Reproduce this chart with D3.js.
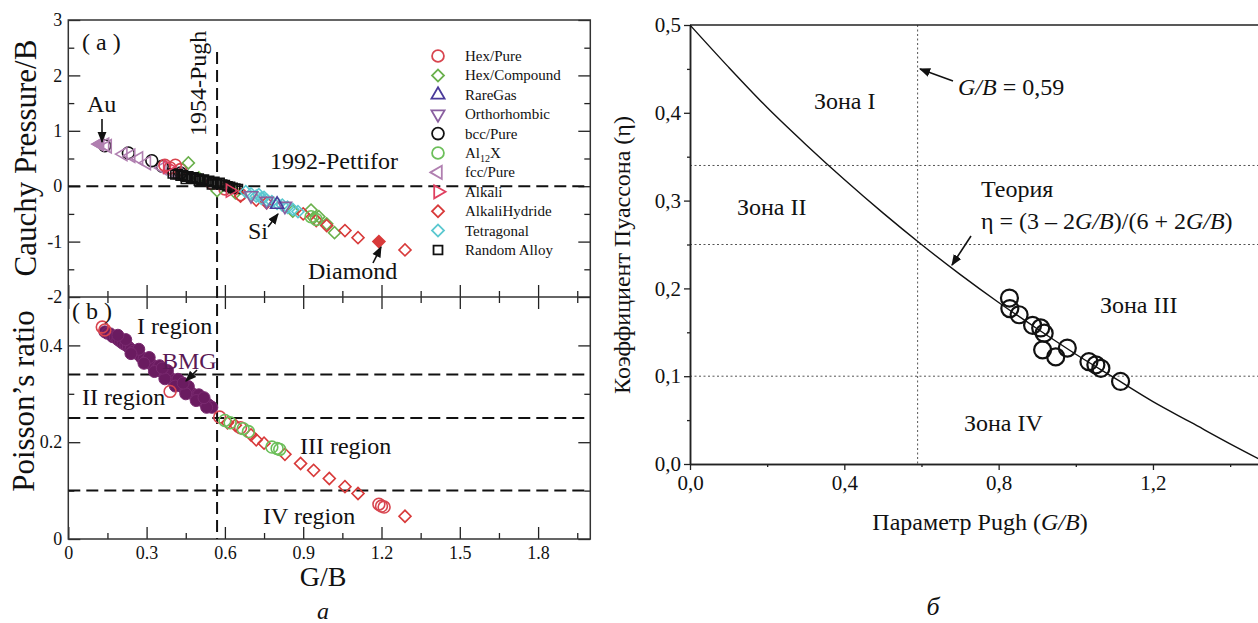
<!DOCTYPE html>
<html>
<head>
<meta charset="utf-8">
<script src="https://cdn.jsdelivr.net/npm/d3@7"></script>
<style>
  body { margin: 0; background: #fff; }
  svg text { font-family: "Liberation Serif", "DejaVu Serif", serif; fill: #111; }
  .axis path, .axis line { stroke: #222; }
</style>
</head>
<body>
<svg id="chart" width="1258" height="623"></svg>
<script>
// ── left panel (a): Cauchy pressure / B vs G/B ─────────────────────
const legendNames = ["Hex/Pure","Hex/Compound","RareGas","Orthorhombic","bcc/Pure","Al12X",
                     "fcc/Pure","Alkali","AlkaliHydride","Tetragonal","Random Alloy"];

const cauchyHexPure = [[0.37,0.38],[0.39,0.33],[0.41,0.38],[0.43,0.30],[0.55,0.05],[0.60,-0.05],[0.66,-0.15]];
const cauchyHexCompound = [[0.46,0.42],[0.50,0.15],[0.57,-0.08],[0.64,-0.12],[0.86,-0.45],[0.93,-0.43],
                           [0.94,-0.57],[0.96,-0.55],[0.99,-0.68],[1.02,-0.84]];
const cauchyRareGas = [[0.80,-0.33]];
const cauchyOrtho = [[0.70,-0.17],[0.76,-0.27],[0.83,-0.36]];
const cauchyBcc = [[0.14,0.73],[0.23,0.60],[0.32,0.46],[0.36,0.36],[0.43,0.24]];
const cauchyAl12X = [[0.93,-0.55],[0.95,-0.60]];
const cauchyFcc = [[0.12,0.76],[0.14,0.75],[0.15,0.72],[0.21,0.58],[0.24,0.55],[0.27,0.50],
                   [0.30,0.42],[0.36,0.33],[0.40,0.24],[0.42,0.22]];
const cauchyAlkali = [[0.38,0.35],[0.62,-0.08]];
const cauchyHydride = [[0.66,-0.18],[0.72,-0.25],[0.76,-0.30],[0.90,-0.50],[0.95,-0.62],[0.99,-0.71],
                       [1.06,-0.80],[1.11,-0.93],[1.29,-1.15]];
const cauchyDiamond = [[1.19,-1.00]];
const cauchyTetra = [[0.68,-0.10],[0.70,-0.14],[0.72,-0.18],[0.73,-0.15],[0.74,-0.22],[0.75,-0.20],
                     [0.76,-0.25],[0.78,-0.28],[0.80,-0.31],[0.82,-0.34],[0.84,-0.38],[0.86,-0.42],[0.88,-0.46]];
const cauchyAlloy = [[0.40,0.23],[0.41,0.21],[0.42,0.22],[0.43,0.19],[0.44,0.20],[0.45,0.17],[0.46,0.18],
                     [0.47,0.15],[0.48,0.16],[0.49,0.13],[0.50,0.14],[0.51,0.11],[0.52,0.12],[0.53,0.09],
                     [0.54,0.10],[0.55,0.07],[0.56,0.08],[0.57,0.05],[0.58,0.06],[0.59,0.03],[0.60,0.02],
                     [0.61,0.00],[0.62,-0.01],[0.63,-0.03],[0.64,-0.04],[0.65,-0.05],[0.45,0.13],[0.50,0.10],[0.55,0.03]];

// ── left panel (b): Poisson's ratio vs G/B ─────────────────────────
const poissonHexPure = [[0.13,0.438],[0.14,0.432],[0.39,0.305],[0.58,0.252],[0.66,0.230],
                        [1.19,0.072],[1.20,0.068],[1.21,0.066]];
const poissonAl12X = [[0.60,0.245],[0.62,0.240],[0.67,0.228],[0.69,0.222],[0.78,0.190],[0.80,0.187],[0.81,0.185]];
const poissonHydride = [[0.61,0.240],[0.64,0.235],[0.70,0.215],[0.72,0.205],[0.75,0.198],[0.83,0.175],
                        [0.89,0.156],[0.94,0.142],[1.00,0.125],[1.06,0.108],[1.11,0.094],[1.29,0.047]];
const poissonBMG = [[0.14,0.428],[0.15,0.425],[0.16,0.424],[0.17,0.418],[0.18,0.417],[0.19,0.412],[0.20,0.408],
  [0.21,0.404],[0.22,0.401],[0.23,0.397],[0.24,0.392],[0.25,0.388],[0.26,0.384],[0.27,0.381],[0.28,0.375],
  [0.29,0.372],[0.30,0.368],[0.31,0.364],[0.32,0.360],[0.33,0.355],[0.34,0.352],[0.35,0.348],[0.36,0.345],
  [0.37,0.340],[0.38,0.336],[0.39,0.333],[0.40,0.328],[0.41,0.325],[0.42,0.320],[0.43,0.317],[0.44,0.313],
  [0.45,0.309],[0.46,0.305],[0.47,0.302],[0.48,0.298],[0.49,0.294],[0.50,0.290],[0.51,0.287],[0.52,0.283],
  [0.53,0.280],[0.54,0.276],[0.55,0.272],[0.22,0.412],[0.27,0.392],[0.31,0.375],[0.35,0.358],[0.38,0.348],
  [0.42,0.330],[0.46,0.315],[0.50,0.298],[0.24,0.383],[0.29,0.363],[0.33,0.346],[0.37,0.331],[0.41,0.316],
  [0.45,0.300],[0.49,0.286],[0.53,0.272],[0.19,0.421],[0.36,0.353],[0.44,0.322],[0.52,0.292]];

const leftXTicks = [0, 0.3, 0.6, 0.9, 1.2, 1.5, 1.8];
const cauchyTicks = [-2, -1, 0, 1, 2, 3];
const poissonTicks = [0, 0.2, 0.4];
const pughLine = 0.57;
const zoneLinesLeft = [0.34, 0.25, 0.1];

// ── right panel (б) ────────────────────────────────────────────────
const pughX = [0.828,0.829,0.853,0.888,0.909,0.918,0.914,0.948,0.978,1.034,1.052,1.065,1.116];
const pughEta = [0.189,0.177,0.170,0.158,0.155,0.149,0.130,0.122,0.132,0.1165,0.113,0.109,0.094];
const theoryX = [0,0.1,0.2,0.3,0.4,0.5,0.6,0.7,0.8,0.9,1.0,1.1,1.2,1.3,1.4,1.5];
const theoryEta = [0.5,0.452,0.406,0.364,0.324,0.286,0.25,0.216,0.184,0.154,0.125,0.098,0.071,0.047,0.023,0];
const rightXTicks = [0, 0.4, 0.8, 1.2];
const rightYTicks = [0, 0.1, 0.2, 0.3, 0.4, 0.5];
const zoneLinesRight = [0.34, 0.25, 0.1];
const pughRight = 0.59;

const SERIF = "Liberation Serif";
const svg = d3.select("#chart");
const defs = svg.append("defs");
defs.append("marker").attr("id","arr").attr("viewBox","0 0 10 10").attr("refX",9).attr("refY",5)
  .attr("markerWidth",7).attr("markerHeight",7).attr("orient","auto-start-reverse")
  .append("path").attr("d","M0,1 L10,5 L0,9 Z").attr("fill","#111");

// styles for series
const sty = {
  "Hex/Pure":      {shape:"circle",  color:"#d8454f"},
  "Hex/Compound":  {shape:"diamond", color:"#6ab04c"},
  "RareGas":       {shape:"up",      color:"#4a3a9a"},
  "Orthorhombic":  {shape:"down",    color:"#8a5fa0"},
  "bcc/Pure":      {shape:"circle",  color:"#111111"},
  "Al12X":         {shape:"circle",  color:"#6cbf5a"},
  "fcc/Pure":      {shape:"left",    color:"#b07fb0"},
  "Alkali":        {shape:"right",   color:"#e04060"},
  "AlkaliHydride": {shape:"diamond", color:"#d83a3a"},
  "Tetragonal":    {shape:"diamond", color:"#5bc8d0"},
  "Random Alloy":  {shape:"square",  color:"#111111"}
};
function symPath(shape) {
  if (shape === "circle") return d3.symbol(d3.symbolCircle, 110)();
  if (shape === "square") return d3.symbol(d3.symbolSquare, 80)();
  if (shape === "diamond") return d3.symbol(d3.symbolSquare, 72)();
  return d3.symbol(d3.symbolTriangle, 75)();
}
function symRot(shape) {
  return {diamond:45, down:180, left:-90, right:90}[shape] || 0;
}
function drawSeries(g, data, name, x, y, filled) {
  const s = sty[name];
  g.selectAll(null).data(data).join("path")
    .attr("d", symPath(s.shape))
    .attr("transform", d => `translate(${x(d[0])},${y(d[1])}) rotate(${symRot(s.shape)})`)
    .attr("fill", filled ? s.color : "none")
    .attr("stroke", s.color).attr("stroke-width", 1.6);
}

// ── left scales ──
const xA = d3.scaleLinear([0, 2], [68.3, 590.3]);
const yTop = d3.scaleLinear([-2, 3], [297, 20]);
const yBot = d3.scaleLinear([0, 0.5], [539, 297]);
const fmtL = d => d === 0 ? "0" : String(d);

const L = svg.append("g");
function addAxis(axis, tx, ty) {
  const g = L.append("g").attr("class","axis").attr("transform",`translate(${tx},${ty})`).call(axis);
  g.attr("font-family", SERIF).attr("font-size", 18);
  g.select(".domain").remove();
  g.selectAll("line").attr("stroke-width",1.3);
  g.selectAll("text").style("font-size","18px").style("font-family",SERIF);
  return g;
}
const minorX = d3.range(0.15, 2, 0.3);
// top panel
addAxis(d3.axisLeft(yTop).tickValues(cauchyTicks).tickFormat(d => String(d)).tickSize(-12).tickPadding(6), 68.3, 0);
addAxis(d3.axisLeft(yTop).tickValues([-1.5,-0.5,0.5,1.5,2.5]).tickFormat("").tickSize(-6), 68.3, 0);
addAxis(d3.axisRight(yTop).tickValues(cauchyTicks).tickFormat("").tickSize(-12), 590.3, 0);
addAxis(d3.axisRight(yTop).tickValues([-1.5,-0.5,0.5,1.5,2.5]).tickFormat("").tickSize(-6), 590.3, 0);
addAxis(d3.axisBottom(xA).tickValues(leftXTicks).tickFormat("").tickSize(-12), 0, 297);
addAxis(d3.axisBottom(xA).tickValues(minorX).tickFormat("").tickSize(-6), 0, 297);
// bottom panel
addAxis(d3.axisLeft(yBot).tickValues(poissonTicks).tickFormat(fmtL).tickSize(-12).tickPadding(6), 68.3, 0);
addAxis(d3.axisLeft(yBot).tickValues([0.1,0.3]).tickFormat("").tickSize(-6), 68.3, 0);
addAxis(d3.axisRight(yBot).tickValues(poissonTicks).tickFormat("").tickSize(-12), 590.3, 0);
addAxis(d3.axisRight(yBot).tickValues([0.1,0.3]).tickFormat("").tickSize(-6), 590.3, 0);
addAxis(d3.axisTop(xA).tickValues(leftXTicks).tickFormat("").tickSize(-12), 0, 297);
addAxis(d3.axisTop(xA).tickValues(minorX).tickFormat("").tickSize(-6), 0, 297);
addAxis(d3.axisBottom(xA).tickValues(leftXTicks).tickFormat(fmtL).tickSize(-12).tickPadding(7), 0, 539);
addAxis(d3.axisBottom(xA).tickValues(minorX).tickFormat("").tickSize(-6), 0, 539);

L.append("rect").attr("x",68.3).attr("y",20).attr("width",522).attr("height",519)
  .attr("fill","none").attr("stroke","#333").attr("stroke-width",1.5);
L.append("line").attr("x1",68.3).attr("x2",590.3).attr("y1",297).attr("y2",297)
  .attr("stroke","#333").attr("stroke-width",1.5);

// dashed guide lines
const dash = "12,6";
L.append("line").attr("x1",xA(pughLine)).attr("x2",xA(pughLine)).attr("y1",52).attr("y2",539)
  .attr("stroke","#111").attr("stroke-width",2).attr("stroke-dasharray",dash);
L.append("line").attr("x1",68.3).attr("x2",590.3).attr("y1",yTop(0)).attr("y2",yTop(0))
  .attr("stroke","#111").attr("stroke-width",2).attr("stroke-dasharray",dash);
zoneLinesLeft.forEach(v => L.append("line").attr("x1",68.3).attr("x2",590.3).attr("y1",yBot(v)).attr("y2",yBot(v))
  .attr("stroke","#111").attr("stroke-width",2).attr("stroke-dasharray",dash));

// scatter top
const gt = L.append("g");
drawSeries(gt, cauchyBcc, "bcc/Pure", xA, yTop);
drawSeries(gt, cauchyFcc, "fcc/Pure", xA, yTop);
drawSeries(gt, cauchyFcc.slice(0,1), "fcc/Pure", xA, yTop, true);
drawSeries(gt, cauchyHexPure, "Hex/Pure", xA, yTop);
drawSeries(gt, cauchyHexCompound, "Hex/Compound", xA, yTop);
drawSeries(gt, cauchyAlloy, "Random Alloy", xA, yTop);
drawSeries(gt, cauchyAlkali, "Alkali", xA, yTop);
drawSeries(gt, cauchyHydride, "AlkaliHydride", xA, yTop);
drawSeries(gt, cauchyDiamond, "AlkaliHydride", xA, yTop, true);
drawSeries(gt, cauchyTetra, "Tetragonal", xA, yTop);
drawSeries(gt, cauchyOrtho, "Orthorhombic", xA, yTop);
drawSeries(gt, cauchyRareGas, "RareGas", xA, yTop);
drawSeries(gt, cauchyAl12X, "Al12X", xA, yTop);

// scatter bottom
const gb = L.append("g");
gb.selectAll(null).data(poissonBMG).join("circle")
  .attr("cx", d => xA(d[0])).attr("cy", d => yBot(d[1])).attr("r", 6)
  .attr("fill","#6a1b60").attr("stroke","#7a2a70").attr("stroke-width",1);
drawSeries(gb, poissonHexPure, "Hex/Pure", xA, yBot);
drawSeries(gb, poissonHydride, "AlkaliHydride", xA, yBot);
drawSeries(gb, poissonAl12X, "Al12X", xA, yBot);

// legend
const lg = L.append("g");
legendNames.forEach((n, i) => {
  const yy = 56 + i * 19.4;
  const s = sty[n];
  lg.append("path").attr("d", symPath(s.shape))
    .attr("transform", `translate(438,${yy}) rotate(${symRot(s.shape)})`)
    .attr("fill","none").attr("stroke", s.color).attr("stroke-width",1.8);
  const t = lg.append("text").attr("x",465).attr("y",yy + 5).style("font-size","15px");
  if (n === "Al12X") {
    t.append("tspan").text("Al");
    t.append("tspan").attr("dy",4).style("font-size","10px").text("12");
    t.append("tspan").attr("dy",-4).text("X");
  } else t.text(n);
});

// left annotations
function txt(g, x, y, s, size, extra) {
  const t = g.append("text").attr("x",x).attr("y",y).style("font-size",size+"px").text(s);
  if (extra) extra(t);
  return t;
}
function arrow(g, x1, y1, x2, y2) {
  g.append("line").attr("x1",x1).attr("y1",y1).attr("x2",x2).attr("y2",y2)
    .attr("stroke","#111").attr("stroke-width",1.6).attr("marker-end","url(#arr)");
}
txt(L, 82, 50, "( a )", 24);
txt(L, 0, 0, "1954-Pugh", 24, t => t.attr("transform","translate(206,136) rotate(-90)"));
txt(L, 270, 169, "1992-Pettifor", 24);
txt(L, 87, 112, "Au", 24);
arrow(L, 102, 119, 102, 142);
txt(L, 248, 239, "Si", 24);
arrow(L, 268, 227, 278, 214);
txt(L, 308, 279, "Diamond", 24);
arrow(L, 373, 263, 381, 247);
txt(L, 72, 319, "( b )", 24);
txt(L, 137, 334, "I region", 24);
txt(L, 162, 369, "BMG", 24, t => t.style("fill","#5a1a55"));
arrow(L, 197, 370, 186, 381);
txt(L, 82, 405, "II region", 24);
txt(L, 300, 454, "III region", 24);
txt(L, 263, 524, "IV region", 24);
txt(L, 0, 0, "Cauchy Pressure/B", 31, t => t.attr("text-anchor","middle").attr("transform","translate(36,158) rotate(-90)"));
txt(L, 0, 0, "Poisson’s ratio", 31, t => t.attr("text-anchor","middle").attr("transform","translate(34,401) rotate(-90)"));
txt(L, 323, 586, "G/B", 28, t => t.attr("text-anchor","middle"));
txt(L, 323, 619, "a", 24, t => t.attr("text-anchor","middle").style("font-style","italic"));

// ── right panel ──
const R = svg.append("g");
const xR = d3.scaleLinear([0, 1.5], [690, 1268.7]);
const yR = d3.scaleLinear([0, 0.5], [464, 25]);
const fmtR = d => d3.format(".1f")(d).replace(".", ",");

const dotted = {stroke:"#555", w:1, dash:"2,2.5"};
zoneLinesRight.forEach(v => R.append("line").attr("x1",690).attr("x2",1268).attr("y1",yR(v)).attr("y2",yR(v))
  .attr("stroke",dotted.stroke).attr("stroke-width",dotted.w).attr("stroke-dasharray",dotted.dash));
R.append("line").attr("x1",xR(pughRight)).attr("x2",xR(pughRight)).attr("y1",25).attr("y2",464)
  .attr("stroke",dotted.stroke).attr("stroke-width",dotted.w).attr("stroke-dasharray",dotted.dash);

function addR(axis, tx, ty) {
  const g = R.append("g").attr("class","axis").attr("transform",`translate(${tx},${ty})`).call(axis);
  g.attr("font-family", SERIF).attr("font-size", 21);
  g.select(".domain").attr("stroke-width",1.5);
  g.selectAll("line").attr("stroke-width",1.3);
  g.selectAll("text").style("font-size","21px").style("font-family",SERIF);
  return g;
}
addR(d3.axisLeft(yR).tickValues(rightYTicks).tickFormat(fmtR).tickSize(6).tickSizeOuter(0).tickPadding(3), 690, 0);
addR(d3.axisLeft(yR).tickValues([0.05,0.15,0.25,0.35,0.45]).tickFormat("").tickSize(3).tickSizeOuter(0), 690, 0);
addR(d3.axisBottom(xR).tickValues(rightXTicks).tickFormat(fmtR).tickSize(6).tickSizeOuter(0).tickPadding(5), 0, 464);
addR(d3.axisBottom(xR).tickValues([0.2,0.6,1.0,1.4]).tickFormat("").tickSize(3).tickSizeOuter(0), 0, 464);
R.append("line").attr("x1",690).attr("x2",1268).attr("y1",25).attr("y2",25).attr("stroke","#222").attr("stroke-width",1.5);

const theory = theoryX.map((x, i) => [x, theoryEta[i]]);
R.append("path").datum(theory)
  .attr("d", d3.line().x(d => xR(d[0])).y(d => yR(d[1])).curve(d3.curveMonotoneX))
  .attr("fill","none").attr("stroke","#111").attr("stroke-width",1.4);

R.selectAll(null).data(pughX.map((x, i) => [x, pughEta[i]])).join("circle")
  .attr("cx", d => xR(d[0])).attr("cy", d => yR(d[1])).attr("r", 8.5)
  .attr("fill","none").attr("stroke","#111").attr("stroke-width",2.2);

function rtxt(x, y, parts, size, anchor) {
  const t = R.append("text").attr("x",x).attr("y",y).style("font-size",(size||24)+"px");
  if (anchor) t.attr("text-anchor",anchor);
  parts.forEach(p => {
    const s = t.append("tspan").text(p[0]);
    if (p[1]) s.style("font-style","italic");
  });
  return t;
}
rtxt(814, 109, [["Зона I"]]);
rtxt(958, 95, [["G/B", 1], [" = 0,59"]]);
arrow(R, 953, 81, 920, 69);
rtxt(737, 215, [["Зона II"]]);
rtxt(981, 197, [["Теория"]]);
rtxt(981, 229, [["η = (3 – 2"], ["G/B", 1], [")/(6 + 2"], ["G/B", 1], [")"]]);
arrow(R, 971, 236, 952, 265);
rtxt(1100, 313, [["Зона III"]]);
rtxt(964, 431, [["Зона IV"]]);
rtxt(980, 530, [["Параметр Pugh ("], ["G/B", 1], [")"]], 24, "middle");
R.append("text").attr("text-anchor","middle").attr("transform","translate(630,255) rotate(-90)")
  .style("font-size","24px").text("Коэффициент Пуассона (η)");
R.append("text").attr("x",933).attr("y",615).attr("text-anchor","middle")
  .style("font-size","26px").style("font-style","italic").text("б");
</script>
</body>
</html>
